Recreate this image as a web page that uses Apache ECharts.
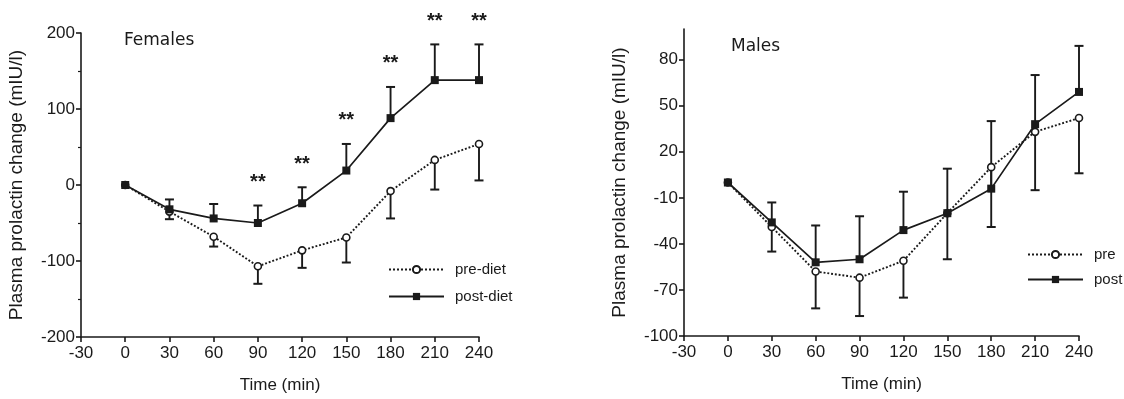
<!DOCTYPE html>
<html><head><meta charset="utf-8">
<script src="https://cdn.jsdelivr.net/npm/echarts@6/dist/echarts.min.js"></script>
<style>html,body{margin:0;padding:0;background:#fff}#c{width:1124px;height:399px}</style>
</head><body><div id="c"></div>
<script>
// ---- data ----
const times = [0, 30, 60, 90, 120, 150, 180, 210, 240];
const xTicks = [-30, 0, 30, 60, 90, 120, 150, 180, 210, 240];
const femYTicks = [-200, -100, 0, 100, 200];
const maleYTicks = [-100, -70, -40, -10, 20, 50, 80];

const femPre = [0, -35, -68, -107, -86, -69, -8, 33, 54];
const femPreErr = [0, 10, 13, 23, 23, 33, 36, 39, 48];
const femPost = [0, -32, -44, -50, -24, 19, 88, 138, 138];
const femPostErr = [0, 13, 19, 23, 21, 35, 41, 47, 47];
const femSigTimes = [90, 120, 150, 180, 210, 240];

const malePre = [0, -29, -58, -62, -51, -20, 10, 33, 42];
const malePreErr = [0, 16, 24, 25, 24, 30, 39, 38, 36];
const malePost = [0, -26, -52, -50, -31, -20, -4, 38, 59];
const malePostErr = [0, 13, 24, 28, 25, 29, 44, 32, 30];

// ---- build ----
const INK = '#1a1a1a';
const FONT = 'Liberation Sans';
const pairs = (ys) => times.map((t, i) => [t, ys[i]]);
const errData = (ys, es, dir) => times.map((t, i) => [t, ys[i], ys[i] + dir * es[i]]).filter((d, i) => es[i] > 0);

function errRender(params, api) {
  const x = api.value(0), p0 = api.coord([x, api.value(1)]), p1 = api.coord([x, api.value(2)]);
  const hw = 4.5;
  return { type: 'group', children: [
    { type: 'line', shape: { x1: p0[0], y1: p0[1], x2: p1[0], y2: p1[1] }, style: { stroke: INK, lineWidth: 1.9 } },
    { type: 'line', shape: { x1: p1[0] - hw, y1: p1[1], x2: p1[0] + hw, y2: p1[1] }, style: { stroke: INK, lineWidth: 2 } }
  ]};
}
function sigRender(params, api) {
  const p = api.coord([api.value(0), api.value(1)]);
  return { type: 'text', x: p[0], y: p[1] - 23,
    style: { text: '**', textAlign: 'center', textVerticalAlign: 'middle', font: 'bold 20px "Liberation Sans"', fill: INK } };
}

function xAxis(gi) {
  return { type: 'value', gridIndex: gi, min: -30, max: 240, interval: 30,
    name: 'Time (min)', nameLocation: 'middle', nameGap: 40,
    nameTextStyle: { fontFamily: FONT, fontSize: 17, color: INK },
    axisLine: { onZero: false, lineStyle: { color: INK, width: 1.6 } },
    axisTick: { length: 5, lineStyle: { color: INK, width: 1.6 } },
    axisLabel: { fontFamily: FONT, fontSize: 17, color: INK, margin: 8 },
    splitLine: { show: false } };
}
function yAxis(gi, min, max, ticks, minor) {
  return { type: 'value', gridIndex: gi, min: min, max: max,
    name: 'Plasma prolactin change (mIU/l)', nameLocation: 'middle', nameGap: 55,
    nameTextStyle: { fontFamily: FONT, fontSize: 19, color: INK },
    axisLine: { onZero: false, lineStyle: { color: INK, width: 1.6 } },
    axisTick: { length: 5, customValues: ticks, lineStyle: { color: INK, width: 1.6 } },
    minorTick: minor ? { show: true, splitNumber: 2, length: 3, lineStyle: { color: INK, width: 1.2 } } : { show: false },
    axisLabel: { fontFamily: FONT, fontSize: 17, color: INK, margin: 6, customValues: ticks },
    splitLine: { show: false } };
}
function lineSeries(name, gi, ys, pre) {
  return { type: 'line', name: name, xAxisIndex: gi, yAxisIndex: gi, data: pairs(ys),
    symbol: pre ? 'circle' : 'rect', symbolSize: pre ? 7 : 8, showAllSymbol: true,
    lineStyle: { color: INK, width: pre ? 1.9 : 1.7, type: pre ? 'dotted' : 'solid' },
    itemStyle: { color: pre ? '#fff' : INK, borderColor: INK, borderWidth: pre ? 1.6 : 0 },
    z: pre ? 3 : 4, silent: true, animation: false };
}
function errSeries(gi, ys, es, dir) {
  return { type: 'custom', xAxisIndex: gi, yAxisIndex: gi, renderItem: errRender, data: errData(ys, es, dir),
    z: 2, silent: true, animation: false };
}

const chart = echarts.init(document.getElementById('c'), null, { renderer: 'canvas' });
chart.setOption({
  backgroundColor: '#fff',
  animation: false,
  grid: [
    { left: 81, top: 33, width: 398, height: 308 },
    { left: 684, top: 29, width: 395, height: 307 }
  ],
  xAxis: [xAxis(0), xAxis(1)],
  yAxis: [yAxis(0, -200, 200, femYTicks, true), yAxis(1, -100, 100, maleYTicks, false)],
  title: [
    { text: 'Females', left: 119, top: 27, textStyle: { fontFamily: 'DejaVu Sans', fontSize: 17, fontWeight: 'normal', color: INK } },
    { text: 'Males', left: 726, top: 33, textStyle: { fontFamily: 'DejaVu Sans', fontSize: 17, fontWeight: 'normal', color: INK } }
  ],
  legend: [
    { data: ['pre-diet', 'post-diet'], orient: 'vertical', left: 383, top: 257, itemWidth: 55, itemHeight: 9, itemGap: 12,
      textStyle: { fontFamily: FONT, fontSize: 15, color: INK, padding: [0, 0, 0, 6] } },
    { data: ['pre', 'post'], orient: 'vertical', left: 1022, top: 242, itemWidth: 55, itemHeight: 9, itemGap: 10,
      textStyle: { fontFamily: FONT, fontSize: 15, color: INK, padding: [0, 0, 0, 6] } }
  ],
  series: [
    errSeries(0, femPre, femPreErr, -1),
    errSeries(0, femPost, femPostErr, 1),
    lineSeries('pre-diet', 0, femPre, true),
    lineSeries('post-diet', 0, femPost, false),
    { type: 'custom', xAxisIndex: 0, yAxisIndex: 0, renderItem: sigRender, silent: true, animation: false,
      data: femSigTimes.map(t => { const i = times.indexOf(t); return [t, femPost[i] + femPostErr[i]]; }) },
    errSeries(1, malePre, malePreErr, -1),
    errSeries(1, malePost, malePostErr, 1),
    lineSeries('pre', 1, malePre, true),
    lineSeries('post', 1, malePost, false)
  ]
});
</script></body></html>
